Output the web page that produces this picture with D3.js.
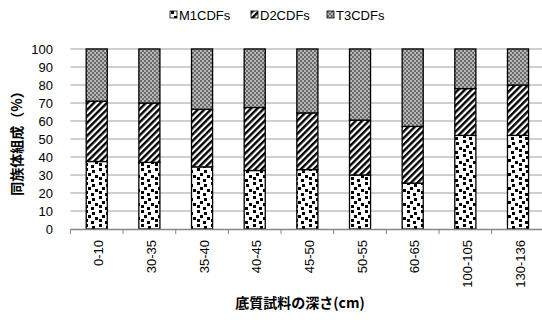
<!DOCTYPE html>
<html><head><meta charset="utf-8">
<script src="https://cdn.jsdelivr.net/npm/d3@7"></script>
<style>body{margin:0;background:#fff}svg{display:block}</style>
</head><body>
<svg id="c" width="542" height="320"></svg>
<script>
const categories = ["0-10","30-35","35-40","40-45","45-50","50-55","60-65","100-105","130-136"];
const m1 = [37.5, 37, 34.5, 32.5, 33, 30, 25.5, 52, 52];
const d2 = [33.5, 33, 32, 35, 31.5, 30.5, 31.5, 26, 28];
const t3 = [29, 30, 33.5, 32.5, 35.5, 39.5, 43, 22, 20];
const seriesNames = ["M1CDFs","D2CDFs","T3CDFs"];
const yTicks = [0,10,20,30,40,50,60,70,80,90,100];

const svg = d3.select("#c");
const defs = svg.append("defs");
// M1: white with black squares
const pM = defs.append("pattern").attr("id","pM").attr("patternUnits","userSpaceOnUse").attr("width",14).attr("height",14);
pM.append("rect").attr("width",14).attr("height",14).attr("fill","#fff");
[[1,0],[8,2],[4,5],[11,7],[1,9],[7,11]].forEach(([x,y])=>pM.append("rect").attr("x",x).attr("y",y).attr("width",3).attr("height",3).attr("fill","#000"));
// D2: diagonal stripes
const pD = defs.append("pattern").attr("id","pD").attr("patternUnits","userSpaceOnUse").attr("width",4.6).attr("height",10).attr("patternTransform","rotate(45)");
pD.append("rect").attr("width",4.6).attr("height",10).attr("fill","#fff");
pD.append("rect").attr("width",2.4).attr("height",10).attr("fill","#000");
// T3: grey checker
const pT = defs.append("pattern").attr("id","pT").attr("patternUnits","userSpaceOnUse").attr("width",4).attr("height",4);
pT.append("rect").attr("width",4).attr("height",4).attr("fill","#b8b8b8");
pT.append("rect").attr("width",2).attr("height",2).attr("fill","#6a6a6a");
pT.append("rect").attr("x",2).attr("y",2).attr("width",2).attr("height",2).attr("fill","#6a6a6a");
const fills = ["url(#pM)","url(#pD)","url(#pT)"];

const x = d3.scaleBand().domain(categories).range([70.4, 70.4 + 9*52.66]).paddingInner(0.6).paddingOuter(0.3);
const y = d3.scaleLinear().domain([0,100]).range([229, 49]);

// gridlines
svg.append("g").selectAll("line").data(yTicks.filter(d=>d>0)).join("line")
  .attr("x1",70.4).attr("x2",542).attr("y1",d=>y(d)).attr("y2",d=>y(d))
  .attr("stroke","#bfbfbf").attr("stroke-width",1.3);

// y labels
svg.append("g").selectAll("text").data(yTicks).join("text")
  .attr("x",53).attr("y",d=>y(d)).attr("dy","0.36em").attr("text-anchor","end")
  .attr("font-family","Liberation Sans, Arial, sans-serif").attr("font-size",13).attr("fill","#000")
  .text(d=>d);

// stacked bars
const table = categories.map((c,i)=>({cat:c, M1CDFs:m1[i], D2CDFs:d2[i], T3CDFs:t3[i]}));
const stack = d3.stack().keys(seriesNames)(table);
stack.forEach((s,si)=>{
  svg.append("g").selectAll("rect").data(s).join("rect")
    .attr("x",d=>x(d.data.cat)).attr("width",x.bandwidth())
    .attr("y",d=>y(Math.min(d[1],100))).attr("height",d=>y(d[0])-y(Math.min(d[1],100)))
    .attr("fill",fills[si]).attr("stroke","#000").attr("stroke-width",1.3);
});

// x axis
svg.append("line").attr("x1",70.4).attr("x2",542).attr("y1",229.5).attr("y2",229.5).attr("stroke","#868686").attr("stroke-width",1.3);
const bounds = categories.map(c=>x(c) - x.step()*x.paddingOuter());
svg.append("g").selectAll("line").data(bounds).join("line")
  .attr("x1",d=>d).attr("x2",d=>d).attr("y1",229).attr("y2",234)
  .attr("stroke","#868686").attr("stroke-width",1);
svg.append("g").selectAll("text").data(categories).join("text")
  .attr("transform",d=>`translate(${x(d)+x.bandwidth()/2+2},240) rotate(-90)`)
  .attr("dy","0.36em").attr("text-anchor","end")
  .attr("font-family","Liberation Sans, Arial, sans-serif").attr("font-size",13).attr("fill","#000")
  .text(d=>d);

// axis titles
svg.append("text").attr("x",300).attr("y",308).attr("text-anchor","middle")
  .attr("font-family","Noto Sans CJK JP, sans-serif").attr("font-weight","bold").attr("font-size",14)
  .text("底質試料の深さ(cm)");
svg.append("text").attr("transform","translate(22,140) rotate(-90)").attr("text-anchor","middle")
  .attr("font-family","Noto Sans CJK JP, sans-serif").attr("font-weight","bold").attr("font-size",14)
  .text("同族体組成（%）");

// legend
const legX = [170, 251, 327];
const lg = svg.append("g").selectAll("g").data(seriesNames).join("g")
  .attr("transform",(d,i)=>`translate(${legX[i]},11)`);
lg.append("rect").attr("width",7).attr("height",7).attr("fill",(d,i)=>fills[i]).attr("stroke","#000").attr("stroke-width",0.8);
lg.append("text").attr("x",9).attr("y",4).attr("dy","0.36em")
  .attr("font-family","Liberation Sans, Arial, sans-serif").attr("font-size",13).text(d=>d);
</script>
</body></html>
